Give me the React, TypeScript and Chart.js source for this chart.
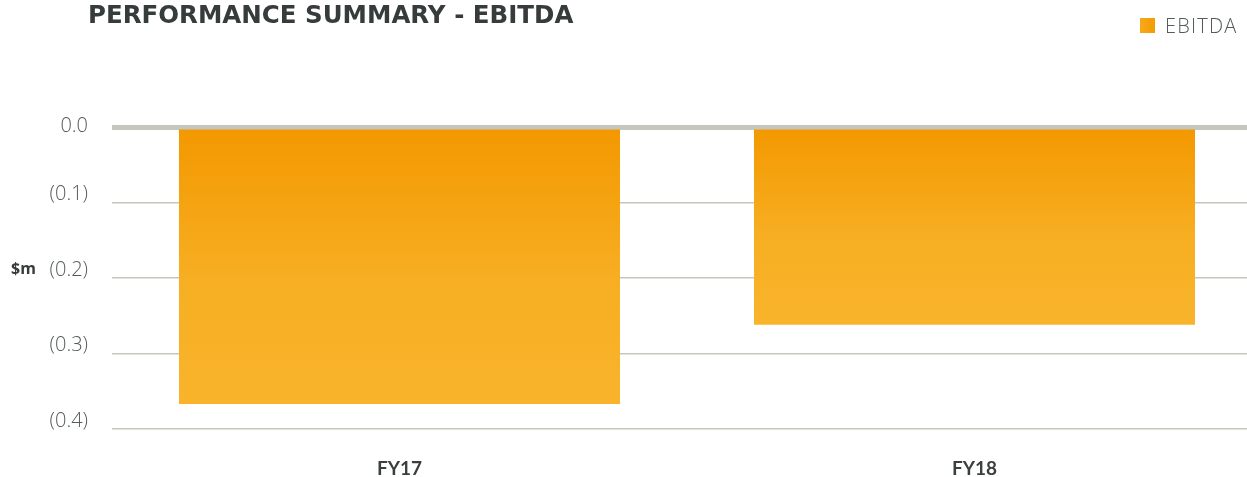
import React, { useEffect, useRef } from "react";
import { Chart, registerables } from "chart.js";

Chart.register(...registerables);

const categories = ["FY17", "FY18"];
const ebitda = [-0.367, -0.262];
const seriesLabel = "EBITDA";
const yMin = -0.4;
const yMax = 0;
const yStep = 0.1;

function fmt(v: number): string {
  const r = Math.round(v * 10) / 10;
  if (Math.abs(r) < 1e-9) return "0.0";
  return r < 0 ? `(${Math.abs(r).toFixed(1)})` : r.toFixed(1);
}

const yLabelPlugin = {
  id: "yLabels",
  afterDraw(chart: any) {
    const y = chart.scales.y;
    const c = chart.ctx;
    c.save();
    c.font = "300 20px 'Open Sans'";
    c.fillStyle = "#555a5a";
    c.textAlign = "right";
    c.textBaseline = "middle";
    y.ticks.forEach((t: any) => {
      const py = y.getPixelForValue(t.value);
      const off = Math.abs(t.value) < 1e-9 ? -1 : -8;
      c.fillText(fmt(t.value), 88, py + off);
    });
    c.restore();
  },
};

export default function App() {
  const ref = useRef<HTMLCanvasElement | null>(null);

  useEffect(() => {
    document.body.style.margin = "0";
    document.body.style.overflow = "hidden";
    const ctx = ref.current!.getContext("2d")!;
    const chart = new Chart(ctx, {
      type: "bar",
      data: {
        labels: categories,
        datasets: [
          {
            label: seriesLabel,
            data: ebitda,
            backgroundColor: (c: any) => {
              const ch = c.chart;
              const area = ch.chartArea;
              if (!area) return "#F7A81B";
              const y = ch.scales.y;
              const v = c.raw ?? 0;
              const y0 = y.getPixelForValue(0);
              const y1 = y.getPixelForValue(v);
              const g = ch.ctx.createLinearGradient(0, y0, 0, y1);
              g.addColorStop(0, "#F39800");
              g.addColorStop(0.55, "#F7AE22");
              g.addColorStop(1, "#F9B42C");
              return g;
            },
            borderWidth: 0,
            categoryPercentage: 1,
            barPercentage: 0.767,
          },
        ],
      },
      options: {
        animation: false,
        responsive: false,
        maintainAspectRatio: false,
        layout: { padding: { top: 127, left: 0, right: 0, bottom: 0 } },
        plugins: {
          legend: { display: false },
          title: { display: false },
          tooltip: { enabled: false },
        },
        scales: {
          x: {
            grid: { display: false, drawTicks: false },
            border: { display: false },
            ticks: {
              color: "#3a3f3f",
              font: { family: "Lato", size: 19, weight: "bold" },
              padding: 28,
            },
            afterFit: (s: any) => {
              s.height = 48;
            },
          },
          y: {
            min: yMin,
            max: yMax,
            grid: {
              drawTicks: false,
              color: "#c6c6bf",
              lineWidth: (c: any) => (c.tick && Math.abs(c.tick.value) < 1e-9 ? 5 : 1.6),
            },
            border: { display: false },
            ticks: {
              stepSize: yStep,
              display: false,
            },
            afterFit: (s: any) => {
              s.width = 112;
            },
          },
        },
      },
      plugins: [yLabelPlugin],
    });
    return () => chart.destroy();
  }, []);

  return (
    <div style={{ position: "relative", width: 1247, height: 477, overflow: "hidden", fontFamily: "Lato" }}>
      <canvas
        ref={ref}
        width={1262}
        height={477}
        style={{ position: "absolute", left: 0, top: 0, width: 1262, height: 477 }}
      />
      <div
        style={{
          position: "absolute",
          left: 88,
          top: 0,
          fontFamily: "'DejaVu Sans'",
          fontSize: 24.5,
          fontWeight: 700,
          color: "#363b3b",
          whiteSpace: "nowrap",
        }}
      >
        PERFORMANCE SUMMARY - EBITDA
      </div>
      <div
        style={{
          position: "absolute",
          left: 1140,
          top: 12,
          display: "flex",
          alignItems: "center",
          whiteSpace: "nowrap",
        }}
      >
        <span
          style={{
            display: "inline-block",
            width: 15,
            height: 15,
            background: "linear-gradient(90deg, #F7A81B, #F39C00)",
            marginRight: 10,
          }}
        />
        <span
          style={{
            fontFamily: "'Open Sans'",
            fontSize: 20,
            fontWeight: 300,
            letterSpacing: 1.2,
            color: "#555a5a",
          }}
        >
          {seriesLabel}
        </span>
      </div>
      <div
        style={{
          position: "absolute",
          left: 11,
          top: 257,
          fontFamily: "'Open Sans'",
          fontSize: 16,
          fontWeight: 700,
          color: "#363b3b",
        }}
      >
        $m
      </div>
    </div>
  );
}
